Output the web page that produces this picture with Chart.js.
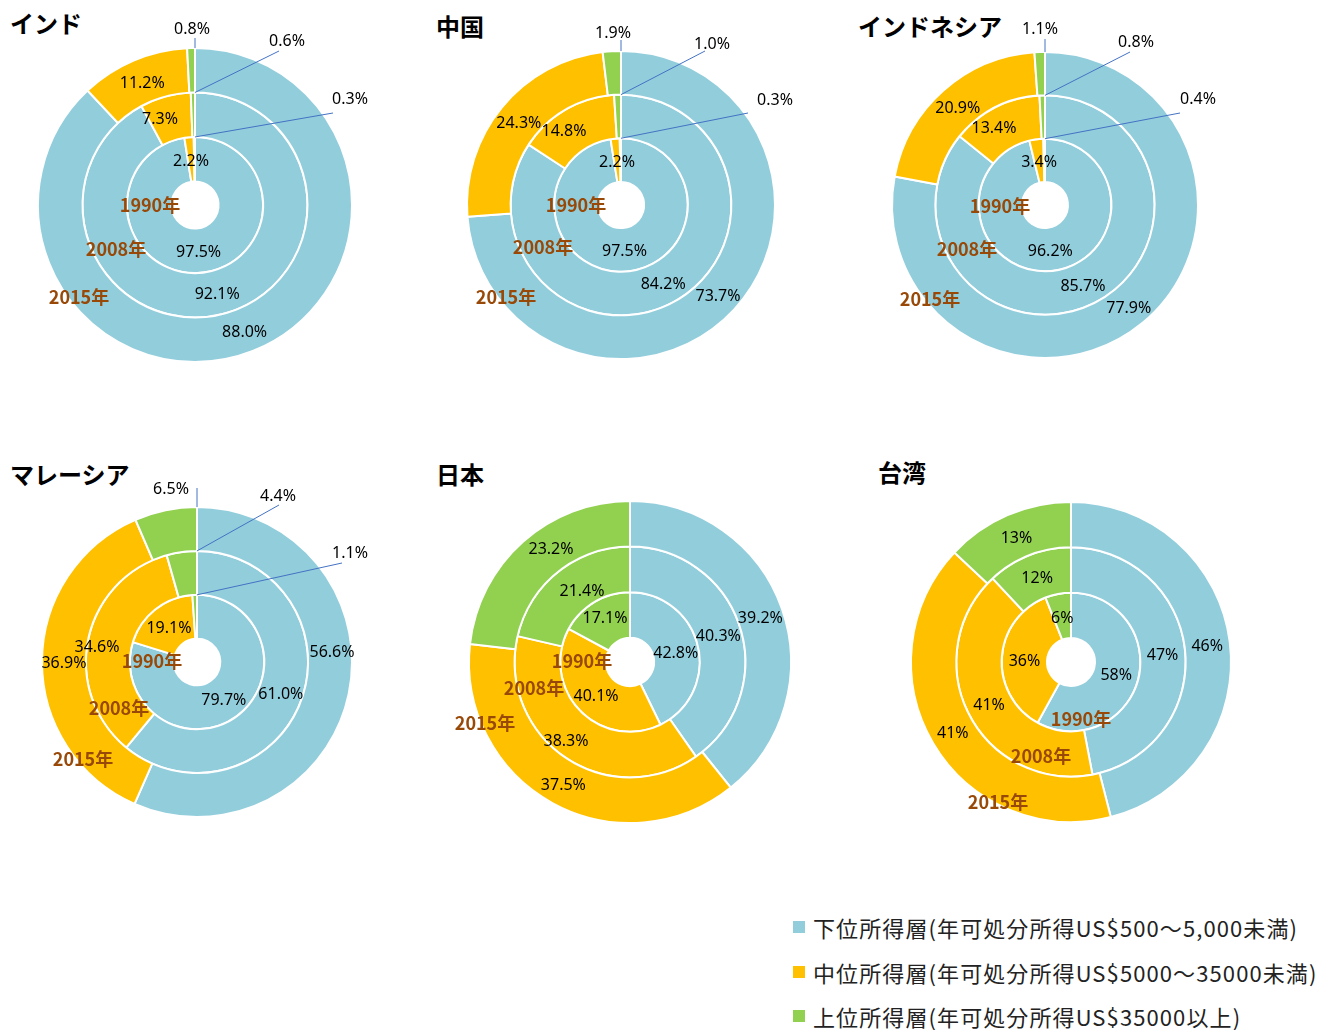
<!DOCTYPE html>
<html lang="ja">
<head>
<meta charset="utf-8">
<title>所得層別の世帯構成比</title>
<script src="https://cdn.jsdelivr.net/npm/chart.js@4.4.1/dist/chart.umd.min.js"></script>
<style>
  body { margin: 0; background: #fff; }
  #page { position: relative; width: 1335px; height: 1030px; overflow: hidden; font-family: "Noto Sans CJK JP", sans-serif; }
  .title { position: absolute; font-weight: bold; font-size: 24px; line-height: 24px; color: #000; white-space: nowrap; }
  canvas.ring { position: absolute; }
  #legend { position: absolute; left: 793px; top: 905px; font-size: 22px; letter-spacing: 1.1px; color: #222; }
  #legend .row { height: 44.5px; display: flex; align-items: center; white-space: nowrap; }
  #legend .box { width: 12px; height: 12px; margin-right: 8px; flex: none; }
</style>
</head>
<body>
<div id="page"></div>
<script>
// income tiers, in drawing order (clockwise from 12 o'clock)
const tiers = [
  "下位所得層(年可処分所得US$500～5,000未満)",
  "中位所得層(年可処分所得US$5000～35000未満)",
  "上位所得層(年可処分所得US$35000以上)"
];
const tierColors = ["#92CDDC", "#FFC000", "#92D050"];

// rings from outside to inside
const years = ["2015年", "2008年", "1990年"];

// shares (%) per ring: [lower, middle, upper]
const india     = [[88.0, 11.2, 0.8], [92.1, 7.3, 0.6], [97.5, 2.2, 0.3]];
const china     = [[73.7, 24.3, 1.9], [84.2, 14.8, 1.0], [97.5, 2.2, 0.3]];
const indonesia = [[77.9, 20.9, 1.1], [85.7, 13.4, 0.8], [96.2, 3.4, 0.4]];
const malaysia  = [[56.6, 36.9, 6.5], [61.0, 34.6, 4.4], [79.7, 19.1, 1.1]];
const japan     = [[39.2, 37.5, 23.2], [40.3, 38.3, 21.4], [42.8, 40.1, 17.1]];
const taiwan    = [[46, 41, 13], [47, 41, 12], [58, 36, 6]];

// panel layout: centre, radius, title spot, year tags and label tweaks
// (moved labels keyed "ring-slice", offsets from the centre)
const panels = [
  { name: "インド", values: india, decimals: 1, cx: 195, cy: 205, r: 157, tx: 10, ty: 11,
    yearAt: [[-116, 92], [-79, 44], [-45, 0]],
    moved: {
      "0-2": { at: [-3, -178], leader: [0, -167] },
      "1-2": { at: [92, -166], leader: [84, -154] },
      "2-2": { at: [155, -108], leader: [138, -92] },
      "1-1": { at: [-35, -88] }
    } },
  { name: "中国", values: china, decimals: 1, cx: 621, cy: 205, r: 154, tx: 436, ty: 14,
    yearAt: [[-115, 92], [-78, 42], [-45, 0]],
    moved: {
      "0-2": { at: [-8, -174], leader: [0, -165] },
      "1-2": { at: [91, -163], leader: [84, -154] },
      "2-2": { at: [154, -107], leader: [127, -92] },
      "1-1": { at: [-57, -76] }
    } },
  { name: "インドネシア", values: indonesia, decimals: 1, cx: 1045, cy: 205, r: 153, tx: 858, ty: 14,
    yearAt: [[-115, 94], [-78, 44], [-45, 1]],
    moved: {
      "0-2": { at: [-5, -178], leader: [0, -166] },
      "1-2": { at: [91, -165], leader: [85, -153] },
      "2-2": { at: [153, -108], leader: [135, -92] },
      "1-1": { at: [-51, -79] }
    } },
  { name: "マレーシア", values: malaysia, decimals: 1, cx: 197, cy: 662, r: 155, tx: 10, ty: 462,
    yearAt: [[-114, 97], [-78, 46], [-45, -1]],
    moved: {
      "0-2": { at: [-26, -175], leader: [0, -174] },
      "1-2": { at: [81, -168], leader: [82, -157] },
      "2-2": { at: [153, -111], leader: [145, -99] },
      "1-1": { at: [-100, -17] },
      "0-0": { at: [135, -12] }
    } },
  { name: "日本", values: japan, decimals: 1, cx: 630, cy: 662, r: 161, tx: 436, ty: 462,
    yearAt: [[-145, 61], [-96, 26], [-48, -1]],
    moved: {
      "0-2": { at: [-79, -115] },
      "1-2": { at: [-48, -73] },
      "2-2": { at: [-25, -46] },
      "1-1": { at: [-64, 77] }
    } },
  { name: "台湾", values: taiwan, decimals: 0, cx: 1071, cy: 662, r: 160, tx: 878, ty: 460,
    yearAt: [[-73, 140], [-30, 94], [10, 57]],
    moved: {} }
];

const CANVAS = 390;

// percentage labels on each slice plus the year tags
const ringLabels = {
  id: "ringLabels",
  afterDatasetsDraw(chart, args, opts) {
    const ctx = chart.ctx;
    ctx.save();
    ctx.textAlign = "center";
    ctx.textBaseline = "middle";
    let cx = 0, cy = 0;
    chart.data.datasets.forEach((ds, di) => {
      const meta = chart.getDatasetMeta(di);
      meta.data.forEach((arc, i) => {
        const p = arc.getProps(["x", "y", "startAngle", "endAngle", "innerRadius", "outerRadius"], true);
        cx = p.x; cy = p.y;
        const text = ds.data[i].toFixed(opts.decimals) + "%";
        const o = opts.moved[di + "-" + i];
        let lx, ly;
        if (o) {
          lx = p.x + o.at[0];
          ly = p.y + o.at[1];
          if (o.leader) {
            ctx.strokeStyle = "#4472C4";
            ctx.lineWidth = 1;
            ctx.beginPath();
            ctx.moveTo(p.x, p.y - p.outerRadius);
            ctx.lineTo(p.x + o.leader[0], p.y + o.leader[1]);
            ctx.stroke();
          }
        } else {
          const a = (p.startAngle + p.endAngle) / 2;
          const rr = (p.innerRadius + p.outerRadius) / 2;
          lx = p.x + Math.cos(a) * rr;
          ly = p.y + Math.sin(a) * rr;
        }
        ctx.fillStyle = "#000";
        ctx.font = '16px "Noto Sans", "Noto Sans CJK JP", sans-serif';
        // "middle" sits a little high for digits, nudge down
        ctx.fillText(text, lx, ly + 2);
      });
    });
    ctx.font = 'bold 18px "Noto Sans CJK JP", sans-serif';
    ctx.fillStyle = "#984807";
    opts.yearAt.forEach((pt, k) => {
      ctx.fillText(years[k], cx + pt[0], cy + pt[1]);
    });
    ctx.restore();
  }
};

const page = document.getElementById("page");

panels.forEach((pn) => {
  const title = document.createElement("div");
  title.className = "title";
  title.style.left = pn.tx + "px";
  title.style.top = pn.ty + "px";
  title.textContent = pn.name;
  page.appendChild(title);

  const cv = document.createElement("canvas");
  cv.className = "ring";
  cv.width = CANVAS;
  cv.height = CANVAS;
  cv.style.left = (pn.cx - CANVAS / 2) + "px";
  cv.style.top = (pn.cy - CANVAS / 2) + "px";
  page.appendChild(cv);

  new Chart(cv.getContext("2d"), {
    type: "doughnut",
    data: {
      labels: tiers,
      datasets: pn.values.map((vals, k) => ({
        label: years[k],
        data: vals,
        backgroundColor: tierColors,
        borderColor: "#ffffff",
        borderWidth: 2
      }))
    },
    options: {
      responsive: false,
      animation: false,
      events: [],
      radius: pn.r,
      cutout: "15%",
      layout: { padding: 0 },
      plugins: {
        legend: { display: false },
        tooltip: { enabled: false },
        ringLabels: { decimals: pn.decimals, moved: pn.moved, yearAt: pn.yearAt }
      }
    },
    plugins: [ringLabels]
  });
});

// shared legend
const legend = document.createElement("div");
legend.id = "legend";
tiers.forEach((t, i) => {
  const row = document.createElement("div");
  row.className = "row";
  const box = document.createElement("span");
  box.className = "box";
  box.style.background = tierColors[i];
  const label = document.createElement("span");
  label.textContent = t;
  row.appendChild(box);
  row.appendChild(label);
  legend.appendChild(row);
});
page.appendChild(legend);
</script>
</body>
</html>
